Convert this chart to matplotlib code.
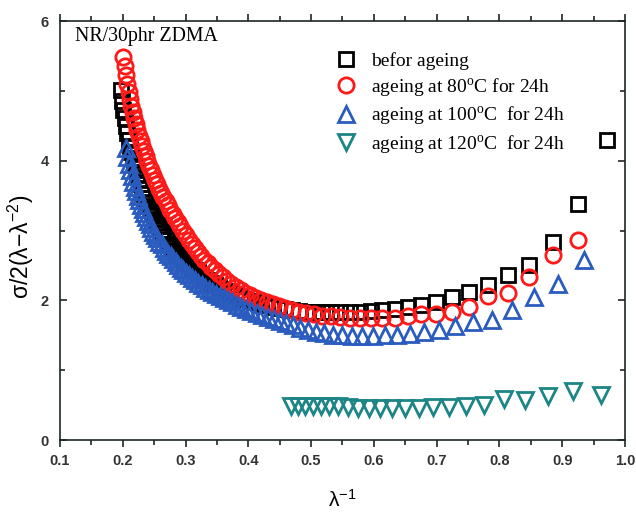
import matplotlib
matplotlib.use("Agg")
import matplotlib.pyplot as plt
from matplotlib.ticker import MultipleLocator

# ---- data: reduced Mooney stress vs inverse stretch ----
x_before = [0.1969, 0.1988, 0.2008, 0.2028, 0.2049, 0.2070, 0.2092, 0.2114, 0.2137, 0.2160,
            0.2183, 0.2208, 0.2232, 0.2257, 0.2283, 0.2309, 0.2336, 0.2364, 0.2392, 0.2421,
            0.2451, 0.2481, 0.2513, 0.2545, 0.2577, 0.2611, 0.2646, 0.2681, 0.2717, 0.2755,
            0.2793, 0.2833, 0.2874, 0.2915, 0.2959, 0.3003, 0.3049, 0.3096, 0.3145, 0.3195,
            0.3247, 0.3300, 0.3356, 0.3413, 0.3472, 0.3534, 0.3597, 0.3663, 0.3731, 0.3802,
            0.3876, 0.3953, 0.4032, 0.4115, 0.4202, 0.4292, 0.4386, 0.4484, 0.4587, 0.4695,
            0.4808, 0.4926, 0.5051, 0.5181, 0.5319, 0.5464, 0.5618, 0.5780, 0.5952, 0.6135,
            0.6329, 0.6536, 0.6757, 0.6993, 0.7246, 0.7519, 0.7813, 0.8130, 0.8475, 0.8850,
            0.9259, 0.9709]
y_before = [5.01, 4.86, 4.73, 4.61, 4.50, 4.40, 4.30, 4.21, 4.12, 4.04,
            3.96, 3.89, 3.81, 3.74, 3.67, 3.60, 3.53, 3.47, 3.41, 3.35,
            3.29, 3.23, 3.17, 3.12, 3.06, 3.01, 2.96, 2.91, 2.86, 2.81,
            2.77, 2.72, 2.68, 2.64, 2.59, 2.55, 2.51, 2.47, 2.43, 2.40,
            2.36, 2.32, 2.29, 2.25, 2.22, 2.19, 2.16, 2.13, 2.10, 2.07,
            2.04, 2.02, 1.99, 1.97, 1.95, 1.93, 1.91, 1.89, 1.88, 1.86,
            1.85, 1.84, 1.84, 1.83, 1.83, 1.83, 1.84, 1.84, 1.85, 1.86,
            1.88, 1.90, 1.93, 1.98, 2.05, 2.12, 2.22, 2.36, 2.51, 2.83,
            3.38, 4.29]

x_80 = [0.2008, 0.2028, 0.2049, 0.2070, 0.2092, 0.2114, 0.2137, 0.2160,
        0.2183, 0.2208, 0.2232, 0.2257, 0.2283, 0.2309, 0.2336, 0.2364, 0.2392, 0.2421,
        0.2451, 0.2481, 0.2513, 0.2545, 0.2577, 0.2611, 0.2646, 0.2681, 0.2717, 0.2755,
        0.2793, 0.2833, 0.2874, 0.2915, 0.2959, 0.3003, 0.3049, 0.3096, 0.3145, 0.3195,
        0.3247, 0.3300, 0.3356, 0.3413, 0.3472, 0.3534, 0.3597, 0.3663, 0.3731, 0.3802,
        0.3876, 0.3953, 0.4032, 0.4115, 0.4202, 0.4292, 0.4386, 0.4484, 0.4587, 0.4695,
        0.4808, 0.4926, 0.5051, 0.5181, 0.5319, 0.5464, 0.5618, 0.5780, 0.5952, 0.6135,
        0.6329, 0.6536, 0.6757, 0.6993, 0.7246, 0.7519, 0.7813, 0.8130, 0.8475, 0.8850,
        0.9259]
y_80 = [5.49, 5.35, 5.22, 5.10, 4.99, 4.89, 4.79, 4.70,
        4.61, 4.52, 4.44, 4.36, 4.28, 4.21, 4.14, 4.07, 4.00, 3.93,
        3.86, 3.80, 3.73, 3.67, 3.60, 3.54, 3.48, 3.42, 3.36, 3.30,
        3.24, 3.18, 3.12, 3.06, 2.99, 2.93, 2.87, 2.81, 2.75, 2.69,
        2.64, 2.58, 2.53, 2.48, 2.43, 2.38, 2.33, 2.28, 2.24, 2.19,
        2.15, 2.11, 2.08, 2.04, 2.01, 1.98, 1.95, 1.92, 1.89, 1.86,
        1.84, 1.82, 1.80, 1.78, 1.77, 1.76, 1.75, 1.74, 1.74, 1.74,
        1.75, 1.78, 1.80, 1.81, 1.84, 1.91, 2.06, 2.10, 2.33, 2.65,
        2.87]

x_100 = [0.2053, 0.2075, 0.2096, 0.2119, 0.2141, 0.2165, 0.2188, 0.2212, 0.2237, 0.2262,
         0.2288, 0.2315, 0.2342, 0.2370, 0.2398, 0.2427, 0.2457, 0.2488, 0.2519, 0.2551,
         0.2584, 0.2618, 0.2653, 0.2688, 0.2725, 0.2762, 0.2801, 0.2841, 0.2882, 0.2924,
         0.2967, 0.3012, 0.3058, 0.3106, 0.3155, 0.3205, 0.3257, 0.3311, 0.3367, 0.3425,
         0.3484, 0.3546, 0.3610, 0.3676, 0.3745, 0.3817, 0.3891, 0.3968, 0.4049, 0.4132,
         0.4219, 0.4310, 0.4405, 0.4505, 0.4608, 0.4717, 0.4831, 0.4950, 0.5076, 0.5208,
         0.5348, 0.5495, 0.5650, 0.5814, 0.5988, 0.6173, 0.6369, 0.6579, 0.6803, 0.7042,
         0.7299, 0.7576, 0.7874, 0.8197, 0.8547, 0.8929, 0.9346]
y_100 = [4.18, 4.05, 3.95, 3.86, 3.78, 3.70, 3.63, 3.56, 3.49, 3.43,
         3.37, 3.31, 3.25, 3.19, 3.14, 3.09, 3.03, 2.98, 2.94, 2.89,
         2.84, 2.80, 2.75, 2.71, 2.67, 2.63, 2.59, 2.55, 2.51, 2.47,
         2.43, 2.39, 2.36, 2.32, 2.29, 2.25, 2.22, 2.18, 2.15, 2.12,
         2.09, 2.06, 2.03, 2.00, 1.97, 1.94, 1.91, 1.88, 1.85, 1.82,
         1.79, 1.76, 1.73, 1.70, 1.67, 1.64, 1.61, 1.58, 1.55, 1.53,
         1.51, 1.50, 1.49, 1.49, 1.49, 1.50, 1.50, 1.52, 1.55, 1.58,
         1.63, 1.69, 1.72, 1.86, 2.05, 2.24, 2.58]

x_120 = [0.4673, 0.4785, 0.4902, 0.5025, 0.5155, 0.5291, 0.5435, 0.5587, 0.5747, 0.5917,
         0.6098, 0.6289, 0.6494, 0.6711, 0.6944, 0.7194, 0.7463, 0.7752, 0.8065, 0.8403,
         0.8772, 0.9174, 0.9615]
y_120 = [0.48, 0.48, 0.48, 0.48, 0.48, 0.48, 0.48, 0.47, 0.46, 0.46,
         0.46, 0.46, 0.46, 0.46, 0.47, 0.47, 0.48, 0.50, 0.58, 0.57,
         0.63, 0.70, 0.65]

labels = ["befor ageing",
          "ageing at 80$\\mathregular{^o}$C for 24h",
          "ageing at 100$\\mathregular{^o}$C  for 24h",
          "ageing at 120$\\mathregular{^o}$C  for 24h"]
x_ticks = [0.1, 0.2, 0.3, 0.4, 0.5, 0.6, 0.7, 0.8, 0.9, 1.0]
y_ticks = [0, 2, 4, 6]

# ---- figure ----
plt.rcParams["font.family"] = ["Liberation Sans", "DejaVu Sans"]
plt.rcParams["mathtext.fontset"] = "custom"
plt.rcParams["mathtext.rm"] = "Liberation Serif"

fig = plt.figure(figsize=(6.36, 5.13), dpi=100)
ax = fig.add_axes([0.0943, 0.1423, 0.8884, 0.8167])

mk = dict(linestyle="none", markerfacecolor="none", markeredgewidth=2.0)
ax.plot(x_before, y_before, marker="s", markersize=9.5, markeredgecolor="#000000", label=labels[0], **mk)
ax.plot(x_80, y_80, marker="o", markersize=11, markeredgecolor="#ff1a1a", label=labels[1], **mk)
ax.plot(x_100, y_100, marker="^", markersize=11.5, markeredgecolor="#2a5cbf", label=labels[2], **mk)
ax.plot(x_120, y_120, marker="v", markersize=11.5, markeredgecolor="#1d8585", label=labels[3], **mk)

ax.set_xlim(0.1, 1.0)
ax.set_ylim(0, 6)
ax.set_xticks(x_ticks)
ax.set_xticklabels([f"{v:.1f}" for v in x_ticks])
ax.set_yticks(y_ticks)
ax.set_yticklabels([str(v) for v in y_ticks])
ax.xaxis.set_minor_locator(MultipleLocator(0.05))
ax.yaxis.set_minor_locator(MultipleLocator(1))

for s in ax.spines.values():
    s.set_linewidth(1.2)
    s.set_color("#1c2626")

ax.tick_params(axis="x", which="both", direction="out", top=True, labeltop=False,
               labelsize=10.5, pad=5, color="#1c2626", width=1.2)
ax.tick_params(axis="y", which="both", direction="in", right=True, labelright=False,
               labelsize=10.5, pad=8, color="#1c2626", width=1.2)
ax.tick_params(which="major", length=5)
ax.tick_params(which="minor", length=3.5)
for lab in ax.get_xticklabels() + ax.get_yticklabels():
    lab.set_fontweight("bold")
    lab.set_color("#333333")

ax.set_xlabel("$\\mathregular{\u03bb^{-1}}$", fontsize=15, labelpad=15)
ax.set_ylabel("\u03c3/2(\u03bb\u2212\u03bb$\\mathregular{^{-2}}$)", fontsize=16.5,
              family=["Liberation Sans", "DejaVu Sans"])
ax.yaxis.set_label_coords(-0.042, 0.46)

ax.text(0.026, 0.985, "NR/30phr ZDMA", transform=ax.transAxes, ha="left", va="top",
        fontsize=14.3, family="Liberation Serif")

leg = ax.legend(loc="upper left", bbox_to_anchor=(0.513, 0.918), bbox_transform=fig.transFigure,
                frameon=False, handlelength=1.0, handletextpad=0.8, labelspacing=0.33,
                borderpad=0.0, prop={"family": "Liberation Serif", "size": 14})

fig.savefig("out.png", dpi=100, facecolor="white")
